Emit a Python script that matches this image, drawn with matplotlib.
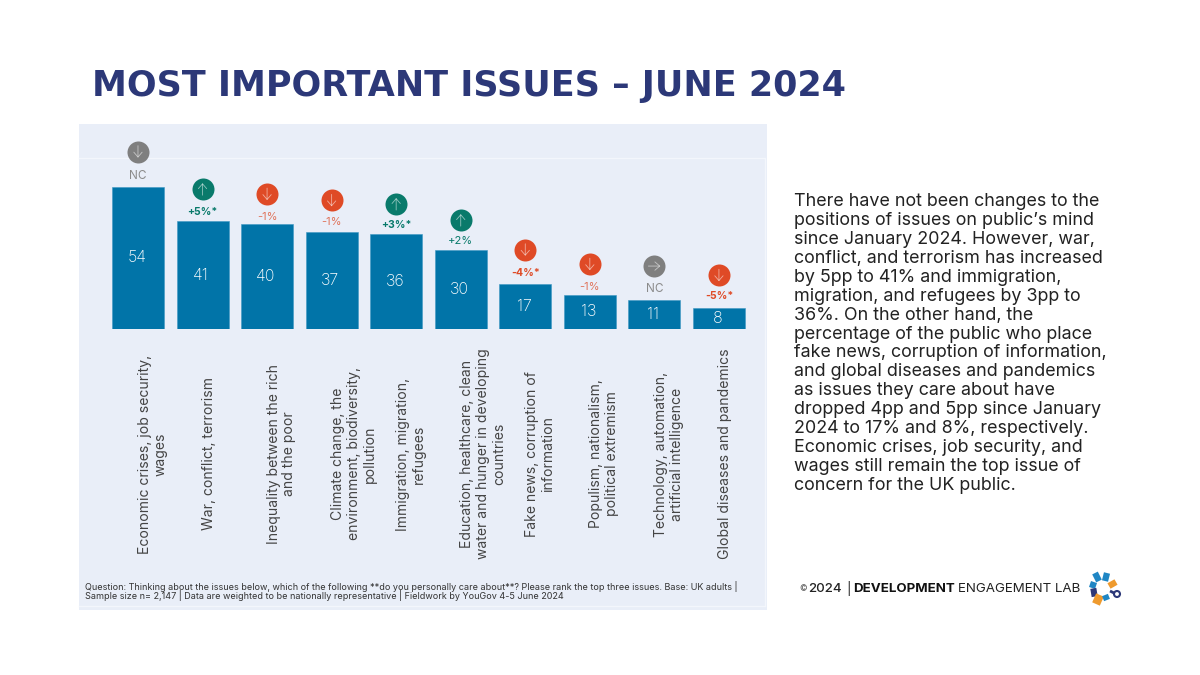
import matplotlib
matplotlib.use('Agg')
import matplotlib.pyplot as plt
from matplotlib.patches import Rectangle, Circle

title = 'MOST IMPORTANT ISSUES – JUNE 2024'

issues = [
    'Economic crises, job security,\nwages',
    'War, conflict, terrorism',
    'Inequality between the rich\nand the poor',
    'Climate change, the\nenvironment, biodiversity,\npollution',
    'Immigration, migration,\nrefugees',
    'Education, healthcare, clean\nwater and hunger in developing\ncountries',
    'Fake news, corruption of\ninformation',
    'Populism, nationalism,\npolitical extremism',
    'Technology, automation,\nartificial intelligence',
    'Global diseases and pandemics',
]
values = [54, 41, 40, 37, 36, 30, 17, 13, 11, 8]
changes = ['NC', '+5%*', '-1%', '-1%', '+3%*', '+2%', '-4%*', '-1%', 'NC', '-5%*']
directions = ['down', 'up', 'down', 'down', 'up', 'up', 'down', 'down', 'right', 'down']

# gaps above the bar top, in pixels
icon_gap = [35.3, 32, 29.7, 31.3, 30.3, 30, 34.5, 30.6, 34, 32.7]
label_gap = [11.3, 9, 6.4, 10, 9, 8.7, 11.2, 8.3, 11.3, 11.7]

body_lines = [
    'There have not been changes to the',
    'positions of issues on public’s mind',
    'since January 2024. However, war,',
    'conflict, and terrorism has increased',
    'by 5pp to 41% and immigration,',
    'migration, and refugees by 3pp to',
    '36%. On the other hand, the',
    'percentage of the public who place',
    'fake news, corruption of information,',
    'and global diseases and pandemics',
    'as issues they care about have',
    'dropped 4pp and 5pp since January',
    '2024 to 17% and 8%, respectively.',
    'Economic crises, job security, and',
    'wages still remain the top issue of',
    'concern for the UK public.',
]

footnote = ('Question: Thinking about the issues below, which of the following **do you personally care about**? '
            'Please rank the top three issues. Base: UK adults |\n'
            'Sample size n= 2,147 | Data are weighted to be nationally representative | Fieldwork by YouGov 4-5 June 2024')

BLUE = '#0174a8'
RED = '#df4a26'
GREEN = '#097a6b'
GREY = '#7f7f7f'
NAVY = '#2c3878'
PANEL = '#e9eef8'
LOGO_BLUE = '#1f86c4'
LOGO_ORANGE = '#ee9a2e'

plt.rcParams['font.family'] = ['Inter', 'DejaVu Sans']

fig = plt.figure(figsize=(12, 6.75), dpi=100, facecolor='white')

# page axes in pixel coordinates
page = fig.add_axes([0, 0, 1, 1])
page.set_xlim(0, 1200)
page.set_ylim(675, 0)
page.axis('off')

page.add_patch(Rectangle((79, 124), 688, 486, fc=PANEL, ec='none'))
page.plot([79, 765, 765], [158, 158, 606], color='#f3f6fc', lw=1)
page.plot([79, 765], [606, 606], color='#f3f6fc', lw=1)

page.text(92, 96, title, fontsize=25.2, fontweight='bold', color=NAVY, va='baseline', ha='left',
          family='DejaVu Sans')

line_h = 18.87
for i, line in enumerate(body_lines):
    page.text(794, 202 + i * line_h, line, fontsize=12.9, color='#222222', va='center', ha='left')

page.text(85, 591, footnote, fontsize=6.53, color='#333333', va='center', ha='left', linespacing=0.87)

# footer logo text
page.text(799.5, 589, '©', fontsize=6, color='#555555', va='center')
page.text(808, 589, '2024', fontsize=9.6, color='#222222', va='center', fontweight='medium')
page.text(846, 589, '|', fontsize=9.6, color='#222222', va='center')
page.text(853, 589, 'DEVELOPMENT', fontsize=9.6, color='#111111', va='center', fontweight='bold')
page.text(958, 589, 'ENGAGEMENT LAB', fontsize=9.6, color='#222222', va='center')

# logo mark, short spokes round a white centre
spokes = [
    ((1099, 581), (1095, 573), LOGO_BLUE, 4.5),
    ((1105, 581), (1107, 573), LOGO_BLUE, 4.5),
    ((1096, 586), (1090, 584), LOGO_BLUE, 4.5),
    ((1097, 592), (1091, 593), NAVY, 6),
    ((1100, 595), (1096, 604), LOGO_ORANGE, 6),
    ((1105, 595), (1107, 600), LOGO_BLUE, 4.5),
    ((1109, 586), (1116, 582), LOGO_ORANGE, 4.5),
    ((1110, 591), (1114, 593), NAVY, 2),
]
for start, end, col, width in spokes:
    page.plot([start[0], end[0]], [start[1], end[1]], color=col, lw=width, solid_capstyle='butt')
page.add_patch(Circle((1117, 594), 3, fc='none', ec=NAVY, lw=1.5))

# bars: category index on x, value on y
px_per_x = 64.55
px_per_y = 2.63
ax = fig.add_axes([105.7 / 1200, 1 - 329 / 675, 645.5 / 1200, 204 / 675])
ax.patch.set_alpha(0)
ax.set_xlim(-0.5, 9.5)
ax.set_ylim(0, 204 / px_per_y)
ax.axis('off')

ax.bar(range(len(values)), values, width=0.805, color=BLUE, edgecolor='#3f97c4', linewidth=0.4)

colors = {'up': GREEN, 'down': RED, 'right': GREY}
arrow_dx = {'up': 0, 'down': 0, 'right': 12}
arrow_dy = {'up': 12, 'down': -12, 'right': 0}
for i, v in enumerate(values):
    ax.text(i - 0.02, v / 2, str(v), color='white', fontsize=11.5, ha='center', va='center', fontweight='light')

    d = directions[i]
    nc = changes[i] == 'NC'
    bold = changes[i].endswith('*')
    col = GREY if nc else colors[d]
    if nc:
        lab_col = '#8a8a8a'
    elif d == 'down' and not bold:
        lab_col = '#e0735a'
    else:
        lab_col = col
    if bold:
        lab_size = 7.5
    elif nc:
        lab_size = 8.5
    else:
        lab_size = 8
    ax.text(i, v + label_gap[i] / px_per_y, changes[i], color=lab_col, fontsize=lab_size,
            ha='center', va='center', fontweight='bold' if bold else 'normal')

    yc = v + icon_gap[i] / px_per_y
    ax.scatter([i], [yc], s=251, color=col, linewidths=0, zorder=3)
    # arrow inside the icon
    dx = arrow_dx[d] / 2 / px_per_x
    dy = arrow_dy[d] / 2 / px_per_y
    ax.annotate('', xy=(i + dx, yc + dy), xytext=(i - dx, yc - dy), zorder=4,
                arrowprops=dict(arrowstyle='->,head_length=0.35,head_width=0.3', color='white', alpha=0.55,
                                lw=0.6, shrinkA=0, shrinkB=0))

    # first line sits just right of the bar centre, extra lines run on to the right
    page.text(138 + px_per_x * i - 0.5, 454, issues[i], rotation=90, fontsize=10.05, color='#444444',
              ha='left', va='center', multialignment='center', linespacing=1.17)

fig.savefig('out.png', dpi=100)
